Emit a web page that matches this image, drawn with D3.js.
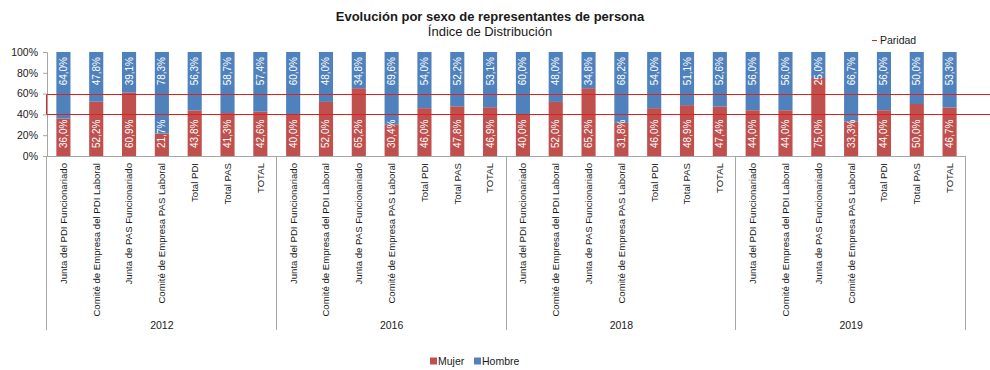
<!DOCTYPE html>
<html lang="es">
<head>
<meta charset="utf-8">
<script src="https://cdn.jsdelivr.net/npm/d3@7"></script>
<style>
  html, body { margin: 0; padding: 0; background: #fff; }
  svg { display: block; }
</style>
</head>
<body>
<svg id="chart" width="990" height="370" font-family="Liberation Sans, Arial, sans-serif"></svg>
<script>
// Years (outer category level) and organs (inner category level)
const years = ["2012", "2016", "2018", "2019"];
const organs = [
  "Junta del PDI Funcionariado",
  "Comité de Empresa del PDI Laboral",
  "Junta de PAS Funcionariado",
  "Comité de Empresa PAS Laboral",
  "Total PDI",
  "Total PAS",
  "TOTAL"
];

// Distribution index by sex (%), one row per year, one value per organ
const mujer = [
  [36.0, 52.2, 60.9, 21.7, 43.8, 41.3, 42.6],
  [40.0, 52.0, 65.2, 30.4, 46.0, 47.8, 46.9],
  [40.0, 52.0, 65.2, 31.8, 46.0, 48.9, 47.4],
  [44.0, 44.0, 75.0, 33.3, 44.0, 50.0, 46.7]
];
const hombre = [
  [64.0, 47.8, 39.1, 78.3, 56.3, 58.7, 57.4],
  [60.0, 48.0, 34.8, 69.6, 54.0, 52.2, 53.1],
  [60.0, 48.0, 34.8, 68.2, 54.0, 51.1, 52.6],
  [56.0, 56.0, 25.0, 66.7, 56.0, 50.0, 53.3]
];

// Parity band (40% - 60%)
const parity = [40, 60];
const yTicks = [0, 20, 40, 60, 80, 100];

const colors = { Mujer: "#C0504D", Hombre: "#4F81BD", paridad: "#E0201C", axis: "#A6A6A6" };
const FONT = "Liberation Sans, Arial, sans-serif";

const svg = d3.select("#chart");
const plot = { left: 47, right: 966, top: 52, bottom: 156 };

// Flatten into one row per bar
const rows = [];
years.forEach((yr, i) => organs.forEach((org, j) => {
  rows.push({ key: yr + "|" + org, year: yr, organ: org, mujer: mujer[i][j], hombre: hombre[i][j] });
}));

const x = d3.scaleBand()
  .domain(rows.map(d => d.key))
  .range([plot.left, plot.right])
  .paddingInner(0.57)
  .paddingOuter(0.285);

const y = d3.scaleLinear().domain([0, 100]).range([plot.bottom, plot.top]);

const fmt = v => d3.format(".1f")(v).replace(".", ",") + "%";

// Title
svg.append("text")
  .attr("x", 490).attr("y", 21)
  .attr("text-anchor", "middle")
  .attr("font-size", 13).attr("font-weight", "bold").attr("fill", "#1a1a1a")
  .text("Evolución por sexo de representantes de persona");
svg.append("text")
  .attr("x", 490).attr("y", 36)
  .attr("text-anchor", "middle")
  .attr("font-size", 13).attr("fill", "#1a1a1a")
  .text("Índice de Distribución");

// Y axis
const yAxis = d3.axisLeft(y)
  .tickValues(yTicks)
  .tickSize(4)
  .tickPadding(5)
  .tickFormat(d => d + "%");
const gy = svg.append("g").attr("transform", `translate(${plot.left},0)`).call(yAxis)
  .attr("font-family", FONT);
gy.select(".domain").attr("stroke", colors.axis);
gy.selectAll(".tick line").attr("stroke", colors.axis);
gy.selectAll(".tick text").attr("font-size", 10.5).attr("fill", "#1a1a1a");

// Stacked bars
const bars = svg.append("g");
bars.selectAll("rect.mujer").data(rows).join("rect")
  .attr("class", "mujer")
  .attr("x", d => x(d.key)).attr("width", x.bandwidth())
  .attr("y", d => y(d.mujer)).attr("height", d => y(0) - y(d.mujer))
  .attr("fill", colors.Mujer);
bars.selectAll("rect.hombre").data(rows).join("rect")
  .attr("class", "hombre")
  .attr("x", d => x(d.key)).attr("width", x.bandwidth())
  .attr("y", d => y(Math.min(100, d.mujer + d.hombre)))
  .attr("height", d => y(d.mujer) - y(Math.min(100, d.mujer + d.hombre)))
  .attr("fill", colors.Hombre);

// Value labels (rotated, inside base for Mujer, inside end for Hombre)
const labels = svg.append("g").attr("font-size", 10).attr("fill", "#fff");
labels.selectAll("text.lm").data(rows).join("text")
  .attr("class", "lm")
  .attr("transform", d => `translate(${x(d.key) + x.bandwidth() / 2},${y(0) - 8}) rotate(-90)`)
  .attr("dy", "0.35em")
  .attr("text-anchor", "start")
  .text(d => fmt(d.mujer));
labels.selectAll("text.lh").data(rows).join("text")
  .attr("class", "lh")
  .attr("transform", d => `translate(${x(d.key) + x.bandwidth() / 2},${y(100) + 5}) rotate(-90)`)
  .attr("dy", "0.35em")
  .attr("text-anchor", "end")
  .text(d => fmt(d.hombre));

// Parity band outline
const pg = svg.append("g").attr("stroke", colors.paridad).attr("stroke-width", 1).attr("fill", "none");
parity.forEach(p => {
  pg.append("line").attr("x1", plot.left).attr("x2", 992)
    .attr("y1", Math.round(y(p)) + 0.5).attr("y2", Math.round(y(p)) + 0.5);
});
pg.append("line")
  .attr("x1", plot.left - 0.5).attr("x2", plot.left - 0.5)
  .attr("y1", Math.round(y(parity[1])) + 0.5).attr("y2", Math.round(y(parity[0])) + 0.5);

// Category axis
const axisColor = colors.axis;
svg.append("line")
  .attr("x1", plot.left).attr("x2", plot.right)
  .attr("y1", plot.bottom + 0.5).attr("y2", plot.bottom + 0.5)
  .attr("stroke", axisColor);

const half = (x.step() - x.bandwidth()) / 2;
const bounds = years.map(yr => x(yr + "|" + organs[0]) - half);
bounds.push(plot.right);
svg.append("g").selectAll("line").data(bounds).join("line")
  .attr("x1", d => Math.round(d) - 0.5).attr("x2", d => Math.round(d) - 0.5)
  .attr("y1", plot.bottom).attr("y2", 330)
  .attr("stroke", axisColor);

svg.append("g").attr("font-size", 9.6).attr("fill", "#1a1a1a")
  .selectAll("text").data(rows).join("text")
  .attr("transform", d => `translate(${x(d.key) + x.bandwidth() / 2},${plot.bottom + 7}) rotate(-90)`)
  .attr("dy", "0.35em")
  .attr("text-anchor", "end")
  .text(d => d.organ);

svg.append("g").attr("font-size", 10.5).attr("fill", "#1a1a1a")
  .selectAll("text").data(years).join("text")
  .attr("x", (d, i) => (bounds[i] + bounds[i + 1]) / 2)
  .attr("y", 329)
  .attr("text-anchor", "middle")
  .text(d => d);

// Parity legend
const pl = svg.append("g").attr("transform", "translate(872,40)");
pl.append("line").attr("x1", 0).attr("x2", 5).attr("y1", 0.5).attr("y2", 0.5)
  .attr("stroke", colors.paridad).attr("stroke-width", 1);
pl.append("text").attr("x", 8).attr("dy", "0.35em")
  .attr("font-size", 10.5).attr("fill", "#1a1a1a").text("Paridad");

// Series legend
const series = [
  { name: "Mujer", color: colors.Mujer, x: 430 },
  { name: "Hombre", color: colors.Hombre, x: 474 }
];
const lg = svg.append("g").attr("transform", "translate(0,361)");
const items = lg.selectAll("g").data(series).join("g")
  .attr("transform", d => `translate(${d.x},0)`);
items.append("rect").attr("x", 0).attr("y", -3.5).attr("width", 7).attr("height", 7)
  .attr("fill", d => d.color);
items.append("text").attr("x", 8).attr("dy", "0.35em")
  .attr("font-size", 10.5).attr("fill", "#1a1a1a").text(d => d.name);
</script>
</body>
</html>
